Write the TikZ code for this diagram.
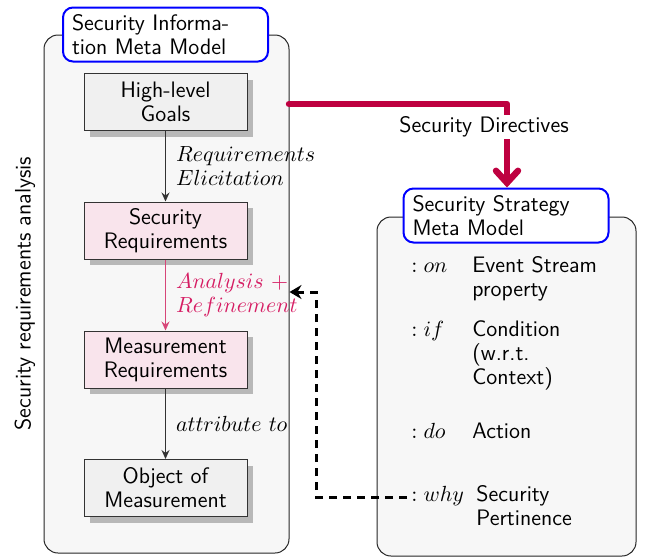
\documentclass[tikz,border=0pt]{standalone}
\usetikzlibrary{shadows,arrows.meta}
\renewcommand{\familydefault}{\sfdefault}
\definecolor{pinkfill}{RGB}{249,228,236}
\definecolor{grayfill}{RGB}{240,240,240}
\definecolor{contfill}{RGB}{247,247,247}
\definecolor{dirred}{RGB}{190,0,64}
\definecolor{anamag}{RGB}{214,30,100}
\definecolor{anaarrow}{RGB}{215,70,120}
\begin{document}
\begin{tikzpicture}[x=0.5pt,y=-0.5pt,font=\sffamily\fontsize{11.2}{12}\selectfont,
  container/.style={draw=black!85,fill=contfill,rounded corners=7pt,line width=0.5pt,inner sep=0pt},
  titlebox/.style={draw=blue,line width=1pt,fill=white,rounded corners=5pt,align=left,inner xsep=4.5pt,text width=93.5pt,minimum height=27pt},
  stepbox/.style={draw=black!80,fill=grayfill,line width=0.5pt,minimum width=81.5pt,minimum height=28.5pt,align=center,inner sep=1pt,
    drop shadow={shadow xshift=3pt,shadow yshift=-3pt,fill=black!28,opacity=1}},
  reqbox/.style={stepbox,fill=pinkfill},
  flow/.style={draw=black!80,line width=0.6pt,-{Stealth[length=4.5pt,width=4pt,inset=1.5pt]}},
  flowlabel/.style={right,align=left,inner sep=0pt,xshift=5pt},
  row/.style={anchor=base west,inner sep=0pt},
  dirarrow/.style={draw=dirred,line width=3.2pt,line cap=round,line join=round,-{Straight Barb[length=6pt,width=11pt,line cap=round]}},
  dasharrow/.style={draw=black,line width=1.5pt,dash pattern=on 4pt off 3pt,-{Stealth[length=6pt,width=7pt,inset=2pt]}}
]
\useasboundingbox (0,0) rectangle (649,558);
% containers
\node[container,minimum width=122.5pt,minimum height=259pt] (L) at (166.5,294) {};
\node[container,minimum width=129.5pt,minimum height=169.5pt] (R) at (506.5,386.5) {};
% titles
\node[titlebox] (LT) at (165.5,34.5) {Security Informa-\\tion Meta Model};
\node[titlebox] (RT) at (506,215.5) {Security Strategy\\Meta Model};
% left chain
\node[stepbox] (HLG) at (165.5,102) {High-level\\Goals};
\node[reqbox] (SR) at (165.5,230.5) {Security\\Requirements};
\node[reqbox] (MR) at (165.5,359.5) {Measurement\\Requirements};
\node[stepbox] (OM) at (165.5,488) {Object of\\Measurement};
\draw[flow] (HLG) -- node[flowlabel] {$Requirements$\\$Elicitation$} (SR);
\draw[flow,draw=anaarrow] (SR) -- node[flowlabel,text=anamag] {$Analysis\ +$\\$Refinement$} (MR);
\draw[flow] (MR) -- node[flowlabel] {$attribute\ to$} (OM);
\node[rotate=90] (SRA) at (25,293.5) {Security requirements analysis};
% right rows
\node[row] (kon) at (411,272) {$: on$};
\node[row] (von) at (472,272) {\begin{tabular}[t]{@{}l@{}}Event Stream\\property\end{tabular}};
\node[row] (kif) at (411,336) {$: if$};
\node[row] (vif) at (472,336) {\begin{tabular}[t]{@{}l@{}}Condition\\(w.r.t.\\Context)\end{tabular}};
\node[row] (kdo) at (411,438) {$: do$};
\node[row] (vdo) at (472,438) {Action};
\node[row] (kwhy) at (411,501) {$: why$};
\node[row] (vwhy) at (476,501) {\begin{tabular}[t]{@{}l@{}}Security\\Pertinence\end{tabular}};
% directive arrow
\coordinate (dstart) at (289,104);
\coordinate (dcorner) at (507,104);
\draw[dirarrow] (dstart) -- (dcorner) -- (dcorner |- RT.north) ;
\node[fill=white,inner sep=1pt] (SD) at (484,127) {Security Directives};
% dashed feedback arrow
\coordinate (dbot) at (316,497);
\coordinate (dtop) at (316,292);
\draw[dasharrow] (kwhy.west |- dbot) ++(-4,0) -- (dbot) -- (dtop) -- (L.east |- dtop);
\end{tikzpicture}
\end{document}
